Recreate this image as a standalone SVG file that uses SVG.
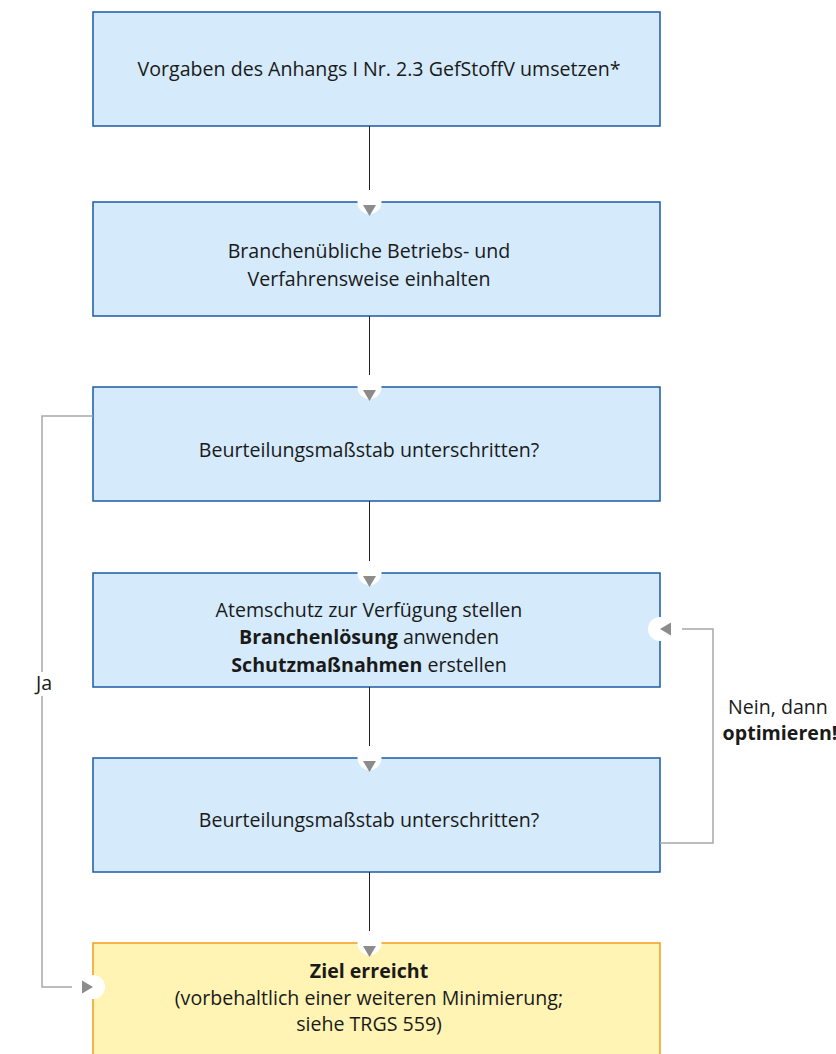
<svg xmlns="http://www.w3.org/2000/svg" width="836" height="1054" viewBox="0 0 836 1054">
<style>
.box{fill:#d5eafa;stroke:#1d5aa6;stroke-width:1.5}
.goal{fill:#fff4b3;stroke:#f39c1e;stroke-width:1.5}
.t{font-family:"Open Sans","Liberation Sans",sans-serif;font-size:19.6px;fill:#1a1a1a;text-anchor:middle}
.b{font-weight:bold}
.v{stroke:#222;stroke-width:1;fill:none}
.g{stroke:#a8a8a8;stroke-width:1.5;fill:none}
.tri{fill:#8c8c8c}
.cap{fill:#fff}
</style>
<g id="n1"><rect class="box" x="93" y="12" width="567" height="114"/>
<text class="t" x="379" y="76">Vorgaben des Anhangs I Nr. 2.3 GefStoffV umsetzen*</text></g>
<g id="n2"><rect class="box" x="93" y="202" width="567" height="114"/>
<text class="t" x="369" y="258">Branchenübliche Betriebs- und</text>
<text class="t" x="369" y="286">Verfahrensweise einhalten</text></g>
<g id="n3"><rect class="box" x="93" y="387" width="567" height="114"/>
<text class="t" x="369" y="457">Beurteilungsmaßstab unterschritten?</text></g>
<g id="n4"><rect class="box" x="93" y="573" width="567" height="114"/>
<text class="t" x="369" y="617">Atemschutz zur Verfügung stellen</text>
<text class="t" x="369" y="644"><tspan class="b">Branchenlösung</tspan> anwenden</text>
<text class="t" x="369" y="672"><tspan class="b">Schutzmaßnahmen</tspan> erstellen</text></g>
<g id="n5"><rect class="box" x="93" y="758" width="567" height="114"/>
<text class="t" x="369" y="827">Beurteilungsmaßstab unterschritten?</text></g>
<g id="n6"><rect class="goal" x="93" y="943" width="567" height="120"/>
<text class="t b" x="369" y="978">Ziel erreicht</text>
<text class="t" x="369" y="1005">(vorbehaltlich einer weiteren Minimierung;</text>
<text class="t" x="369" y="1031">siehe TRGS 559)</text></g>
<g id="connectors">
<path class="v" d="M369.5 126V202M369.5 316V387M369.5 501V573M369.5 687V758M369.5 872V943"/>
<g id="heads">
<circle class="cap" cx="369.5" cy="202" r="12"/><path class="tri" d="M363 205H376L369.5 216Z"/>
<circle class="cap" cx="369.5" cy="387" r="12"/><path class="tri" d="M363 390H376L369.5 401Z"/>
<circle class="cap" cx="369.5" cy="573" r="12"/><path class="tri" d="M363 576H376L369.5 587Z"/>
<circle class="cap" cx="369.5" cy="758" r="12"/><path class="tri" d="M363 761H376L369.5 772Z"/>
<circle class="cap" cx="369.5" cy="943" r="12"/><path class="tri" d="M363 946H376L369.5 957Z"/>
<circle class="cap" cx="93" cy="987" r="12"/><path class="tri" d="M82 980.5V993.5L93 987Z"/>
<circle class="cap" cx="660" cy="629" r="12"/><path class="tri" d="M671 622.5V635.5L660 629Z"/>
</g>
<path class="g" d="M93 416H42V987H72"/>
<path class="g" d="M660 843H713V629H682"/>
</g>
<rect x="33" y="672" width="22" height="24" fill="#fff"/>
<text class="t" x="44" y="690">Ja</text>
<text class="t" x="778" y="714">Nein, dann</text>
<text class="t b" x="780" y="740">optimieren!</text>
</svg>
